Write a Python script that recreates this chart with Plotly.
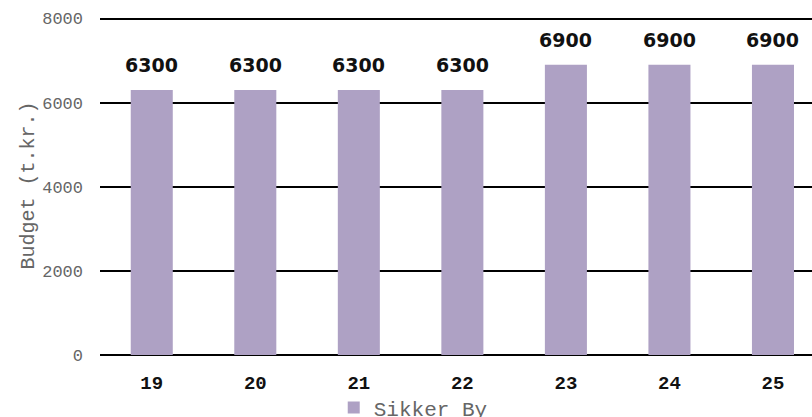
import plotly.graph_objects as go

categories = ["19", "20", "21", "22", "23", "24", "25"]
values = [6300, 6300, 6300, 6300, 6900, 6900, 6900]
series_name = "Sikker By"
y_ticks = [0, 2000, 4000, 6000, 8000]
bar_color = "#AEA1C4"

mono = "Liberation Mono, Courier New, monospace"

fig = go.Figure()
fig.add_trace(go.Bar(
    x=list(range(len(categories))), y=values, name=series_name,
    marker=dict(color=bar_color, line=dict(width=0)),
    showlegend=True,
))

for i, v in enumerate(values):
    fig.add_annotation(
        x=i, y=v, xref="x", yref="y", text=str(v), showarrow=False,
        yanchor="bottom", yshift=12,
        font=dict(family="DejaVu Sans, sans-serif", size=19, color="#111111", weight="bold"),
    )

fig.update_layout(
    width=812, height=417,
    margin=dict(l=100, r=0, t=16, b=62),
    plot_bgcolor="white", paper_bgcolor="white",
    bargap=0.594,
    showlegend=True,
    legend=dict(
        orientation="h", xref="container", x=0.411, xanchor="left",
        yref="container", y=0.071, yanchor="top",
        font=dict(family=mono, size=21, color="#666666"),
        itemwidth=30, bgcolor="rgba(0,0,0,0)",
    ),
    xaxis=dict(
        range=[-0.5, 6.377], automargin=False,
        tickvals=list(range(len(categories))), ticktext=categories,
        showgrid=False, showline=False, zeroline=False,
        ticks="", ticklabelstandoff=14,
        tickfont=dict(family=mono, size=19, color="#111111", weight="bold"),
    ),
    yaxis=dict(
        range=[0, 8060], tickvals=y_ticks, automargin=False,
        showgrid=True, gridcolor="#000000", gridwidth=2,
        zeroline=True, zerolinecolor="#000000", zerolinewidth=2,
        showline=False, ticks="", ticklabelstandoff=16,
        tickfont=dict(family=mono, size=17, color="#666666"),
        title=dict(text="Budget (t.kr.)", standoff=2,
                   font=dict(family=mono, size=20, color="#666666")),
    ),
)

fig.write_html(
    "out.html",
    config={"displayModeBar": False},
    post_script="document.body.style.margin='0';document.body.style.overflow='hidden';",
)
